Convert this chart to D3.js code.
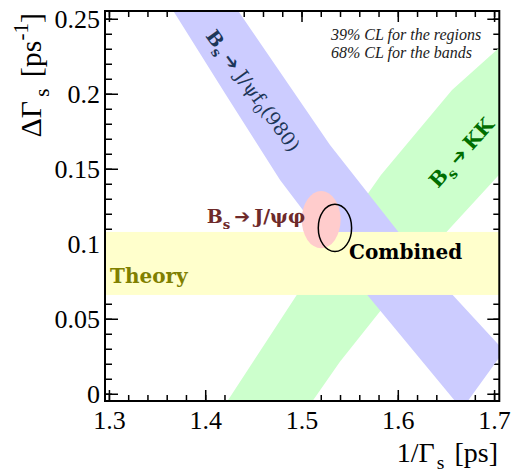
<!DOCTYPE html>
<html>
<head>
<meta charset="utf-8">
<title>DeltaGamma_s vs 1/Gamma_s</title>
<script src="https://d3js.org/d3.v7.min.js"></script>
<style>
  body { margin: 0; background: #fff; }
  svg text { font-family: "Liberation Serif", serif; }
  svg text.lbl { font-family: "DejaVu Serif", serif; font-weight: bold; }
</style>
</head>
<body>
<svg id="chart" width="511" height="473"></svg>
<script>
// axis ticks
const xTicks = [1.3, 1.4, 1.5, 1.6, 1.7];
const xLabels = ["1.3", "1.4", "1.5", "1.6", "1.7"];
const yTicks = [0, 0.05, 0.1, 0.15, 0.2, 0.25];
const yLabels = ["0", "0.05", "0.1", "0.15", "0.2", "0.25"];

// 68% CL bands, edges as [1/Gamma_s, DeltaGamma_s]
const jpsif0Left  = [[1.362, 0.26], [1.4206, 0.200], [1.4772, 0.1429], [1.5678, 0.0662], [1.666, -0.01]];
const jpsif0Right = [[1.429, 0.26], [1.5291, 0.1662], [1.600, 0.1084], [1.6565, 0.0662], [1.71, 0.029]];
const kkLeft  = [[1.417, -0.01], [1.4945, 0.0662], [1.582, 0.1462], [1.6558, 0.2029], [1.71, 0.234]];
const kkRight = [[1.505, -0.01], [1.5394, 0.0217], [1.5803, 0.0547], [1.6503, 0.1084], [1.71, 0.150]];
const theoryBand = [0.0662, 0.1082];

// 39% CL regions: [cx, cy, rx, ry]
const jpsiphiRegion = [1.5199, 0.1164, 0.0202, 0.0191];
const combinedRegion = [1.5342, 0.1109, 0.0173, 0.0158];

const margin = { top: 11, right: 11.7, bottom: 72, left: 105 },
      width = 511 - margin.left - margin.right,
      height = 473 - margin.top - margin.bottom;

const serif = "'Liberation Serif', serif";

const svg = d3.select("#chart");
const g = svg.append("g").attr("transform", `translate(${margin.left},${margin.top})`);

const x = d3.scaleLinear().domain([1.2954, 1.7049]).range([0, width]);
const y = d3.scaleLinear().domain([-0.0045, 0.2555]).range([height, 0]);

svg.append("defs").append("clipPath").attr("id", "plot")
  .append("rect").attr("width", width).attr("height", height);

// ticks (inward, on all four sides); bands are painted over them
const xMinor = d3.range(1.30, 1.7001, 0.02);
const yMinor = d3.range(0, 0.2501, 0.01);
const tickG = g.append("g").attr("stroke", "#000").attr("stroke-width", 1.5);
function ticks(vals, len) {
  vals.forEach(v => {
    tickG.append("line").attr("x1", x(v)).attr("x2", x(v)).attr("y1", height).attr("y2", height - len);
    tickG.append("line").attr("x1", x(v)).attr("x2", x(v)).attr("y1", 0).attr("y2", len);
  });
}
function yticks(vals, len) {
  vals.forEach(v => {
    tickG.append("line").attr("y1", y(v)).attr("y2", y(v)).attr("x1", 0).attr("x2", len + 1);
    tickG.append("line").attr("y1", y(v)).attr("y2", y(v)).attr("x1", width).attr("x2", width - len);
  });
}
ticks(xMinor, 6);
ticks(xTicks, 11);
yticks(yMinor, 6);
yticks(yTicks, 12);

const plot = g.append("g").attr("clip-path", "url(#plot)");
const area = d3.line().x(d => x(d[0])).y(d => y(d[1]));

function band(left, right, color) {
  plot.append("path")
    .attr("d", area(left.concat(right.slice().reverse())) + "Z")
    .attr("fill", color);
}
band(kkLeft, kkRight, "#ccffcc");
band(jpsif0Left, jpsif0Right, "#ccccff");

plot.append("rect")
  .attr("x", 0).attr("width", width)
  .attr("y", y(theoryBand[1]))
  .attr("height", y(theoryBand[0]) - y(theoryBand[1]))
  .attr("fill", "#ffffcc");

function region(r) {
  return plot.append("ellipse")
    .attr("cx", x(r[0])).attr("cy", y(r[1]))
    .attr("rx", x(r[0] + r[2]) - x(r[0]))
    .attr("ry", y(r[1]) - y(r[1] + r[3]));
}
region(jpsiphiRegion).attr("fill", "#ffcccc");
region(combinedRegion).attr("fill", "none").attr("stroke", "#000").attr("stroke-width", 1.5);

// frame
g.append("rect").attr("width", width).attr("height", height)
  .attr("fill", "none").attr("stroke", "#000").attr("stroke-width", 2);

// tick labels
g.selectAll(".xl").data(xTicks).enter().append("text")
  .attr("x", d => x(d)).attr("y", height + 28.3)
  .attr("text-anchor", "middle").attr("font-family", serif).style("font-size", "26px")
  .text((d, i) => xLabels[i]);
g.selectAll(".yl").data(yTicks).enter().append("text")
  .attr("x", -5).attr("y", d => y(d)).attr("dy", "0.35em")
  .attr("text-anchor", "end").attr("font-family", serif).style("font-size", "26px")
  .text((d, i) => yLabels[i]);

// text with sub/superscripts
function rich(t, fs, parts) {
  let off = 0;
  parts.forEach(p => {
    const shift = p.sub ? 0.28 : p.sup ? -0.42 : 0;
    const ts = t.append("tspan").text(p.t).attr("dy", (shift - off) * fs);
    if (p.dx) ts.attr("dx", p.dx);
    if (p.sub || p.sup) ts.style("font-size", (fs * 0.7) + "px");
    if (p.font) ts.style("font-family", p.font);
    if (p.size) ts.style("font-size", p.size + "px");
    if (p.weight) ts.style("font-weight", p.weight);
    off = shift;
  });
  return t;
}

// axis titles
rich(svg.append("text").attr("text-anchor", "end").attr("font-family", serif)
    .attr("transform", "translate(498,461.5)").style("font-size", "28px"), 28,
  [{ t: "1/Γ" }, { t: "s", sub: true, dx: 2 }, { t: " [ps]", dx: 3 }]);
rich(svg.append("text").attr("text-anchor", "end").attr("font-family", serif)
    .attr("transform", "translate(41,13) rotate(-90)").style("font-size", "30px"), 30,
  [{ t: "ΔΓ" }, { t: "s", sub: true, dx: 4 }, { t: " [ps", dx: 4 }, { t: "-1", sup: true }, { t: "]" }]);

// CL note
const note = svg.append("g").attr("font-family", serif)
  .style("font-style", "italic").style("font-size", "16px").attr("fill", "#222");
note.append("text").attr("x", 331).attr("y", 39.5).text("39% CL for the regions");
note.append("text").attr("x", 331).attr("y", 57.5).text("68% CL for the bands");

const arrow = "DejaVu Sans";

// band / region labels
rich(g.append("text").attr("class", "lbl").attr("fill", "#808000")
    .attr("x", x(1.3007)).attr("y", y(0.074)).style("font-size", "20px"), 20,
  [{ t: "Theory" }]);

rich(g.append("text").attr("class", "lbl").attr("fill", "#000")
    .attr("x", x(1.5488)).attr("y", y(0.090)).style("font-size", "20px"), 20,
  [{ t: "Combined" }]);

rich(g.append("text").attr("class", "lbl").attr("fill", "#6e2a2a")
    .attr("x", x(1.401)).attr("y", y(0.114)).style("font-size", "19px"), 19,
  [{ t: "B" }, { t: "s", sub: true }, { t: "➔", font: arrow, size: 19, dx: 4 }, { t: "J/ψφ", dx: 4 }]);

rich(g.append("text").attr("class", "lbl").attr("fill", "#006e00")
    .attr("transform", `translate(${x(1.6412)},${y(0.1369)}) rotate(-48)`).style("font-size", "20px"), 20,
  [{ t: "B" }, { t: "s", sub: true }, { t: "➔", font: arrow, size: 19, dx: 5 }, { t: "KK", dx: 5 }]);

rich(g.append("text").attr("class", "lbl").attr("fill", "#1c3658")
    .attr("transform", `translate(${x(1.3993)},${y(0.2389)}) rotate(54)`).style("font-size", "19px"), 19,
  [{ t: "B" }, { t: "s", sub: true }, { t: "➔", font: arrow, size: 19, dx: 5 },
   { t: "J/ψf", weight: "normal", dx: 5 }, { t: "0", sub: true, weight: "normal" }, { t: "(980)", weight: "normal" }]);
</script>
</body>
</html>
